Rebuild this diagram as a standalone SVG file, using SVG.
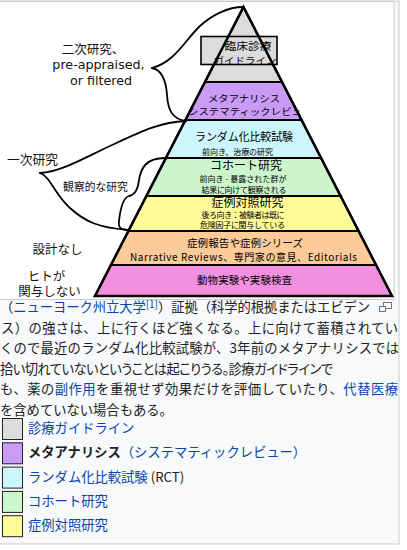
<svg xmlns="http://www.w3.org/2000/svg" width="407" height="550" viewBox="0 0 407 550">
<style>
.jp{font-family:"Noto Sans CJK JP","DejaVu Sans",sans-serif;fill:#000;text-anchor:middle}
.lab{font-family:"DejaVu Sans","Noto Sans CJK JP",sans-serif;fill:#111;text-anchor:middle}
.layer{stroke:#000;stroke-width:2;stroke-linejoin:miter}
.brace{fill:none;stroke:#000;stroke-width:1.8;stroke-linecap:round}
.cap{font-family:"Noto Sans CJK JP","Liberation Sans",sans-serif;font-size:13.3px;fill:#202122}
.lnk{fill:#0645ad}
.key{stroke:#202122;stroke-width:1}
</style>
<rect x="0" y="0" width="407" height="550" fill="#ffffff"/>
<rect x="-1" y="1" width="400" height="543" fill="#f8f9fa" stroke="#c8ccd1" stroke-width="1"/>
<rect x="-1" y="1.5" width="395" height="298" fill="#ffffff" stroke="#c8ccd1" stroke-width="1"/>

<g id="layer-guideline">
<polygon class="layer" fill="#dcdcdc" points="243.5,7 282,82 205,82"/>
<rect x="201" y="36.5" width="76" height="28" fill="#dcdcdc" stroke="#000" stroke-width="1.6"/>
<text class="jp"><tspan x="248" y="49.5" font-size="10" textLength="47" lengthAdjust="spacingAndGlyphs">臨床診療</tspan><tspan x="245" y="63.5" font-size="9.5" textLength="63" lengthAdjust="spacingAndGlyphs">ガイドライン</tspan></text>
</g>
<g id="layer-meta">
<polygon class="layer" fill="#c99bf5" points="205,82 282,82 301.6,120 185.4,120"/>
<text class="jp"><tspan x="244" y="101.5" font-size="9.5" textLength="72" lengthAdjust="spacingAndGlyphs">メタアナリシス</tspan><tspan x="245" y="115" font-size="9.2" textLength="114" lengthAdjust="spacingAndGlyphs">システマティックレビュ</tspan></text>
</g>
<g id="layer-rct">
<polygon class="layer" fill="#ccf6fc" points="185.4,120 301.6,120 321.1,158 165.9,158"/>
<text class="jp"><tspan x="244" y="141" font-size="11" textLength="98">ランダム化比較試験</tspan><tspan x="237.5" y="155" font-size="8" textLength="71">前向き、治療の研究</tspan></text>
</g>
<g id="layer-cohort">
<polygon class="layer" fill="#ccf5cc" points="165.9,158 321.1,158 340.6,196 146.4,196"/>
<text class="jp"><tspan x="246" y="170" font-size="12" textLength="72">コホート研究</tspan><tspan x="243" y="182" font-size="8" textLength="87">前向き - 暴露された群が</tspan><tspan x="244" y="192.5" font-size="8" textLength="85">結果に向けて観察される</tspan></text>
</g>
<g id="layer-casecontrol">
<polygon class="layer" fill="#fffb99" points="146.4,196 340.6,196 358.6,231 128.4,231"/>
<text class="jp"><tspan x="247.5" y="207" font-size="12" textLength="72">症例対照研究</tspan><tspan x="243" y="217.5" font-size="8" textLength="83">後ろ向き：被験者は既に</tspan><tspan x="242.5" y="227.5" font-size="8" textLength="85">危険因子に関与している</tspan></text>
</g>
<g id="layer-case">
<polygon class="layer" fill="#fccb99" points="128.4,231 358.6,231 376.1,265 110.9,265"/>
<text class="jp"><tspan x="245" y="247" font-size="10.5" textLength="116">症例報告や症例シリーズ</tspan><tspan x="243.5" y="261" font-size="10" textLength="227">Narrative Reviews、専門家の意見、Editorials</tspan></text>
</g>
<g id="layer-animal">
<polygon class="layer" fill="#f290e0" points="110.9,265 376.1,265 392,296 95,296"/>
<text class="jp" x="244.5" y="284" font-size="10.5" textLength="95">動物実験や実験検査</text>
</g>
<g id="pyramid-outline">
<polygon points="243.5,7 392,296 95,296" fill="none" stroke="#000" stroke-width="2.5" stroke-linejoin="miter"/>
</g>

<g id="connectors">
<path class="brace" d="M152,68 C175,62 185,40 200,26 C212,15 228,7 243,7"/>
<path class="brace" d="M152,68 C162,70 166,80 167,95 C168,110 172,119 186,121"/>
<path class="brace" d="M40,173 C60,172 80,160 110,146 C140,132 160,122 186,121"/>
<path class="brace" d="M40,173 C50,176 55,195 70,208 C85,222 100,228 129,230"/>
<path class="brace" d="M165,158 C146,158 141,168 139,180 C138,190 134,195 129,196 C122,198 120,212 119,221 C118,228 121,230 129,230"/>
</g>

<g id="label-secondary">
<text class="lab"><tspan x="93" y="54" font-size="12.5">二次研究、</tspan><tspan x="98.5" y="69" font-size="12.7">pre-appraised,</tspan><tspan x="101" y="84.5" font-size="12.7">or filtered</tspan></text>
</g>
<g id="label-primary">
<text class="lab" x="32.5" y="164" font-size="12.8">一次研究</text>
</g>
<g id="label-observational">
<text class="lab" x="95.5" y="191" font-size="10.8">観察的な研究</text>
</g>
<g id="label-nodesign">
<text class="lab" x="57.5" y="254" font-size="12.5">設計なし</text>
</g>
<g id="label-nonhuman">
<text class="lab" font-size="12.5"><tspan x="46.5" y="281">ヒトが</tspan><tspan x="49.5" y="295.5">関与しない</tspan></text>
</g>

<g id="caption">
<text class="cap" x="0" y="312" textLength="370" lengthAdjust="spacing">（<tspan class="lnk">ニューヨーク州立大学</tspan><tspan class="lnk" font-size="10" dy="-4">[1]</tspan><tspan dy="4">）証拠（科学的根拠またはエビデン</tspan></text>
<g fill="none" stroke="#72777d" stroke-width="1">
<rect x="383.5" y="302.5" width="8" height="6"/>
<rect x="379.5" y="306.5" width="6" height="5" fill="#f8f9fa"/>
</g>
<text class="cap" x="1" y="332.6" textLength="397" lengthAdjust="spacing">ス）の強さは、上に行くほど強くなる。上に向けて蓄積されてい</text>
<text class="cap" x="0" y="353.2" textLength="399" lengthAdjust="spacing">くので最近のランダム化比較試験が、3年前のメタアナリシスでは</text>
<text class="cap" x="0" y="373.8" textLength="333" lengthAdjust="spacing" style="font-feature-settings:'palt'">拾い切れていないということは起こりうる。診療ガイドラインで</text>
<text class="cap" x="0" y="394.4" textLength="398" lengthAdjust="spacing">も、薬の<tspan class="lnk">副作用</tspan>を重視せず効果だけを評価していたり、<tspan class="lnk">代替医療</tspan></text>
<text class="cap" x="0" y="415">を含めていない場合もある。</text>
</g>

<g id="legend">
<rect class="key" x="2.5" y="418.5" width="20" height="21" fill="#dddddd"/>
<text class="cap lnk" x="28" y="433">診療ガイドライン</text>
<rect class="key" x="2.5" y="442.8" width="20" height="21" fill="#c99bf5"/>
<text class="cap" x="28" y="457.3"><tspan font-weight="bold">メタアナリシス</tspan><tspan class="lnk">（システマティックレビュー）</tspan></text>
<rect class="key" x="2.5" y="467.1" width="20" height="21" fill="#ccf6fc"/>
<text class="cap" x="28" y="481.6"><tspan class="lnk">ランダム化比較試験</tspan> (RCT)</text>
<rect class="key" x="2.5" y="491.4" width="20" height="21" fill="#ccf7cc"/>
<text class="cap lnk" x="28" y="505.9">コホート研究</text>
<rect class="key" x="2.5" y="515.7" width="20" height="21" fill="#fffb99"/>
<text class="cap lnk" x="28" y="530.2">症例対照研究</text>
</g>
</svg>
